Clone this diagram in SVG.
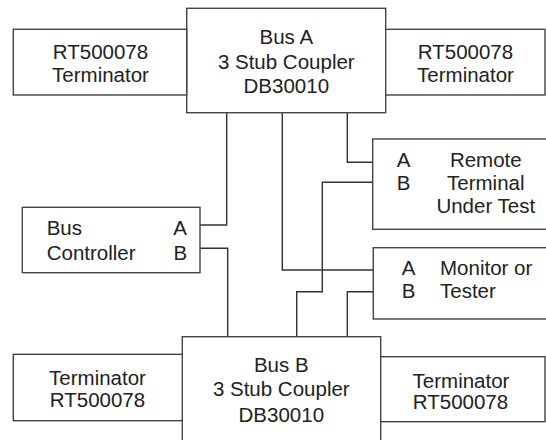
<svg xmlns="http://www.w3.org/2000/svg" width="546" height="440" viewBox="0 0 546 440">
<style>
rect{fill:#fff;stroke:#444;stroke-width:1.4}
path{fill:none;stroke:#333;stroke-width:1.4}
text{font-family:"Liberation Sans",Arial,sans-serif;font-size:20.5px;fill:#222}
.c{text-anchor:middle}
</style>
<rect x="0" y="0" width="546" height="440" style="stroke:none"/>
<g id="connectors">
<path d="M226.7,112.7V225H200"/>
<path d="M282.3,112.7V270H373.3"/>
<path d="M347.3,112.7V162.3H372.7"/>
<path d="M372.7,182.3H322.3V291.7H296.7V336.7"/>
<path d="M200,248.3H227.7V336.7"/>
<path d="M373.3,291.7H347.3V336.7"/>
</g>
<g id="busA">
<rect x="186.7" y="8.3" width="199" height="104.4"/>
<text class="c" x="286.3" y="44">Bus A</text>
<text class="c" x="286.3" y="68.5">3 Stub Coupler</text>
<text class="c" x="286.3" y="93.3">DB30010</text>
</g>
<g id="termTL">
<rect x="13.3" y="29.3" width="173.4" height="65.7"/>
<text class="c" x="100.5" y="59.3">RT500078</text>
<text class="c" x="100.5" y="81.7">Terminator</text>
</g>
<g id="termTR">
<rect x="385.7" y="29.3" width="159.3" height="65.7"/>
<text class="c" x="465.5" y="59.3">RT500078</text>
<text class="c" x="465.5" y="81.7">Terminator</text>
</g>
<g id="rt">
<rect x="372.7" y="139" width="180" height="90.3"/>
<text x="396.7" y="166.7">A</text>
<text x="396.7" y="190">B</text>
<text class="c" x="485.8" y="166.7">Remote</text>
<text class="c" x="485.8" y="190">Terminal</text>
<text class="c" x="485.8" y="213.3">Under Test</text>
</g>
<g id="controller">
<rect x="22.3" y="207.3" width="177.7" height="65.4"/>
<text x="46.7" y="235">Bus</text>
<text x="46.7" y="260">Controller</text>
<text x="173.3" y="235">A</text>
<text x="173.6" y="260">B</text>
</g>
<g id="monitor">
<rect x="373.3" y="247.7" width="180" height="71.3"/>
<text x="401.7" y="275">A</text>
<text x="401.7" y="298.3">B</text>
<text x="440" y="275">Monitor or</text>
<text x="440" y="298.3">Tester</text>
</g>
<g id="busB">
<rect x="182.3" y="336.7" width="198.4" height="110"/>
<text class="c" x="281.3" y="371.7">Bus B</text>
<text class="c" x="281.3" y="395.5">3 Stub Coupler</text>
<text class="c" x="281.3" y="421.7">DB30010</text>
</g>
<g id="termBL">
<rect x="13.3" y="354.3" width="169" height="66.4"/>
<text class="c" x="97.5" y="385">Terminator</text>
<text class="c" x="97.5" y="406.7">RT500078</text>
</g>
<g id="termBR">
<rect x="380.7" y="356.7" width="164.3" height="65"/>
<text class="c" x="461" y="388.3">Terminator</text>
<text class="c" x="460.5" y="409.3">RT500078</text>
</g>
</svg>
